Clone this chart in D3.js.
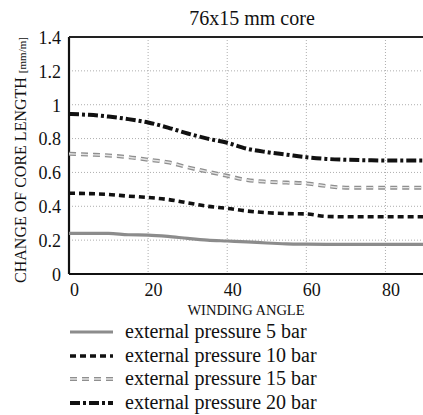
<!DOCTYPE html>
<html>
<head>
<meta charset="utf-8">
<script src="https://cdn.jsdelivr.net/npm/d3@7"></script>
<style>
  body { margin: 0; background: #fff; }
  svg text { fill: #111; }
</style>
</head>
<body>
<div id="chart"></div>
<script>
// data
var angles = [0, 5, 10, 15, 20, 25, 30, 35, 40, 45, 50, 55, 60, 65, 70, 75, 80, 85, 90];
var bar5  = [0.24, 0.24, 0.24, 0.232, 0.23, 0.222, 0.21, 0.2, 0.195, 0.19, 0.183, 0.178, 0.176, 0.175, 0.175, 0.175, 0.175, 0.175, 0.175];
var bar10 = [0.477, 0.475, 0.47, 0.46, 0.452, 0.44, 0.42, 0.4, 0.388, 0.372, 0.362, 0.357, 0.355, 0.34, 0.338, 0.338, 0.338, 0.338, 0.338];
var bar15 = [0.71, 0.705, 0.7, 0.69, 0.675, 0.66, 0.63, 0.605, 0.58, 0.555, 0.545, 0.54, 0.535, 0.52, 0.51, 0.51, 0.51, 0.51, 0.51];
var bar20 = [0.945, 0.94, 0.93, 0.915, 0.895, 0.865, 0.83, 0.8, 0.775, 0.74, 0.72, 0.705, 0.69, 0.68, 0.675, 0.672, 0.67, 0.67, 0.67];
var seriesNames = ["external pressure 5 bar", "external pressure 10 bar", "external pressure 15 bar", "external pressure 20 bar"];
var xTicks = [0, 20, 40, 60, 80];
var yTicks = [0, 0.2, 0.4, 0.6, 0.8, 1, 1.2, 1.4];
var title = "76x15 mm core";
var xTitle = "WINDING ANGLE";
var yTitle = "CHANGE OF CORE LENGTH ";
var yUnit = "[mm/m]";

var font = "Times New Roman";

var svgWidth = 423;
var svgHeight = 415;
var margin = { top: 37, right: 0, bottom: 141, left: 69 };
var width = 356;   // 0..90 deg runs a bit past the right edge
var height = svgHeight - margin.top - margin.bottom;

var svg = d3.select("#chart")
    .append("svg")
    .attr("width", svgWidth)
    .attr("height", svgHeight)
    .attr("font-family", font);

var chartGroup = svg.append("g")
    .attr("transform", `translate(${margin.left}, ${margin.top})`);

var x = d3.scaleLinear().domain([0, 90]).range([0, width]);
var y = d3.scaleLinear().domain([0, 1.4]).range([height, 0]);

// dotted grid
chartGroup.append("g").selectAll("line")
    .data(yTicks.filter(d => d > 0 && d < 1.4))
    .enter().append("line")
    .attr("x1", 0).attr("x2", width)
    .attr("y1", d => y(d)).attr("y2", d => y(d))
    .attr("stroke", "#999").attr("stroke-width", 0.8)
    .attr("stroke-dasharray", "1,2");

chartGroup.append("g").selectAll("line")
    .data(xTicks.filter(d => d > 0))
    .enter().append("line")
    .attr("y1", 0).attr("y2", height)
    .attr("x1", d => x(d)).attr("x2", d => x(d))
    .attr("stroke", "#999").attr("stroke-width", 0.8)
    .attr("stroke-dasharray", "1,2");

// axes
var leftAxis = d3.axisLeft(y).tickValues(yTicks).tickSize(0).tickPadding(8)
    .tickFormat(d => +d.toFixed(1));
var bottomAxis = d3.axisBottom(x).tickValues(xTicks).tickSize(0).tickPadding(9);

var yAxis = chartGroup.append("g").call(leftAxis).attr("font-family", font);
yAxis.select(".domain").remove();
yAxis.selectAll("text").style("font-size", "18px").attr("dy", "0.35em");

var xAxis = chartGroup.append("g")
    .attr("transform", `translate(0, ${height})`)
    .call(bottomAxis).attr("font-family", font);
xAxis.select(".domain").remove();
xAxis.selectAll("text").style("font-size", "18px").attr("dx", 5).attr("dy", "0.7em");

// frame: left, bottom, top
chartGroup.append("line").attr("x1", 0).attr("x2", 0).attr("y1", 0).attr("y2", height)
    .attr("stroke", "#111").attr("stroke-width", 2.2);
chartGroup.append("line").attr("x1", 0).attr("x2", width).attr("y1", height).attr("y2", height)
    .attr("stroke", "#111").attr("stroke-width", 2.2);
chartGroup.append("line").attr("x1", 0).attr("x2", width).attr("y1", 0).attr("y2", 0)
    .attr("stroke", "#222").attr("stroke-width", 2);

// series (inner = lighter core stroke for the hollow gray dashes)
var styles = [
    { values: bar5,  color: "#8c8c8c", width: 3.2, dash: null },
    { values: bar10, color: "#111", width: 3.6, dash: "6,4" },
    { values: bar15, color: "#8f8f8f", width: 4, dash: "7,5", inner: "#e4e4e4" },
    { values: bar20, color: "#111", width: 4, dash: "10,3,3,3" }
];

var line = d3.line()
    .x(d => x(d[0]))
    .y(d => y(d[1]))
    .curve(d3.curveMonotoneX);

styles.forEach(function(s) {
    var pts = angles.map((a, i) => [a, s.values[i]]);
    chartGroup.append("path")
        .datum(pts)
        .attr("d", line)
        .attr("fill", "none")
        .attr("stroke", s.color)
        .attr("stroke-width", s.width)
        .attr("stroke-dasharray", s.dash);
    if (s.inner) {
        chartGroup.append("path")
            .datum(pts)
            .attr("d", line)
            .attr("fill", "none")
            .attr("stroke", s.inner)
            .attr("stroke-width", 1.4)
            .attr("stroke-dasharray", s.dash);
    }
});

// title and axis titles
svg.append("text")
    .attr("x", 252).attr("y", 25)
    .attr("text-anchor", "middle")
    .style("font-size", "20px")
    .text(title);

svg.append("text")
    .attr("x", margin.left + 177).attr("y", 315)
    .attr("text-anchor", "middle")
    .style("font-size", "14.5px")
    .text(xTitle);

var yLab = svg.append("text")
    .attr("transform", `translate(26, 160) rotate(-90)`)
    .attr("text-anchor", "middle")
    .style("font-size", "16px");
yLab.append("tspan").text(yTitle);
yLab.append("tspan").style("font-size", "11px").text(yUnit);

// legend
var legendRows = [332, 356, 379, 403];
styles.forEach(function(s, i) {
    svg.append("line")
        .attr("x1", 70).attr("x2", 113)
        .attr("y1", legendRows[i]).attr("y2", legendRows[i])
        .attr("stroke", s.color)
        .attr("stroke-width", s.width)
        .attr("stroke-dasharray", s.dash);
    if (s.inner) {
        svg.append("line")
            .attr("x1", 70).attr("x2", 113)
            .attr("y1", legendRows[i]).attr("y2", legendRows[i])
            .attr("stroke", s.inner)
            .attr("stroke-width", 1.4)
            .attr("stroke-dasharray", s.dash);
    }
    svg.append("text")
        .attr("x", 125).attr("y", legendRows[i] + 6)
        .style("font-size", "20px")
        .text(seriesNames[i]);
});
</script>
</body>
</html>
